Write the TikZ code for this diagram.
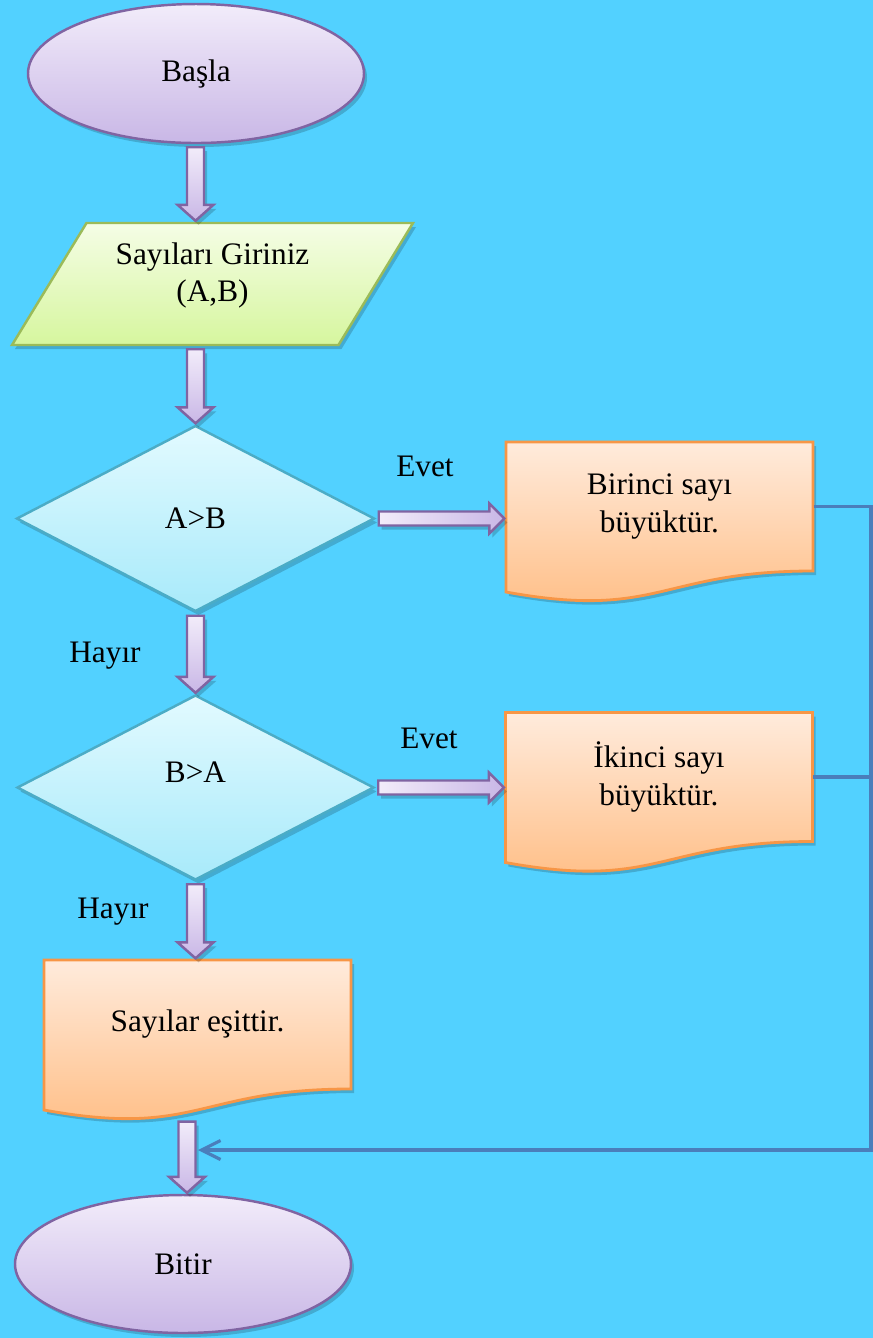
\documentclass[tikz,border=0pt]{standalone}
\usepackage{fontspec}
\setmainfont{Liberation Serif}
\usetikzlibrary{shapes.geometric,calc,arrows.meta,shadows}

\definecolor{skyback}{RGB}{82,209,255}
\definecolor{lilactop}{RGB}{242,236,250}
\definecolor{lilacbot}{RGB}{201,183,230}
\definecolor{violetline}{RGB}{128,100,162}
\definecolor{limetop}{RGB}{245,253,230}
\definecolor{limebot}{RGB}{214,246,158}
\definecolor{greenline}{RGB}{155,187,89}
\definecolor{icetop}{RGB}{226,250,255}
\definecolor{icebot}{RGB}{168,234,250}
\definecolor{tealline}{RGB}{75,172,198}
\definecolor{peachtop}{RGB}{255,235,220}
\definecolor{peachbot}{RGB}{255,188,130}
\definecolor{orangeline}{RGB}{247,150,70}
\definecolor{linkblue}{RGB}{74,126,187}

\tikzset{
  softshadow/.style={drop shadow={shadow xshift=0.03cm,shadow yshift=-0.04cm,opacity=0.18,fill=black}},
  terminal/.style={ellipse, draw=violetline, line width=0.7pt, top color=lilactop, bottom color=lilacbot,
    minimum width=3.36cm, minimum height=1.39cm, inner sep=0pt, softshadow},
  inputbox/.style={trapezium, trapezium left angle=56.7, trapezium right angle=123.3, trapezium stretches=true,
    draw=greenline, line width=0.7pt, top color=limetop, bottom color=limebot,
    minimum width=4.01cm, minimum height=1.22cm, inner sep=1pt, align=center, text depth=0.24cm, softshadow},
  decision/.style={diamond, draw=tealline, line width=0.7pt, top color=icetop, bottom color=icebot,
    minimum width=3.58cm, minimum height=1.86cm, inner sep=0pt, softshadow},
  doctext/.style={rectangle, minimum width=3.07cm, minimum height=1.29cm, inner sep=0pt, align=center},
  docbox/.style={draw=orangeline, line width=0.8pt, top color=peachtop, bottom color=peachbot, softshadow},
  blockarrow/.style={draw=violetline, line width=0.7pt, softshadow},
  link/.style={draw=linkblue, line width=0.9pt},
  answer/.style={anchor=base},
}

% document shape round the top part centred on #1
\newcommand{\docshape}[1]{%
  \path[docbox] ($(#1)+(-1.535,0.645)$) -- ($(#1)+(1.535,0.645)$) -- ($(#1)+(1.535,-0.645)$)
    .. controls ($(#1)+(0,-0.645)$) and ($(#1)+(0,-1.135)$) .. ($(#1)+(-1.535,-0.855)$) -- cycle;}

% fat arrows: x (or y) from #1, tip at #2
\newcommand{\blockdown}[2]{%
  \path[blockarrow, top color=lilactop, bottom color=lilacbot] let \p1=(#1), \p2=(#2) in
    (\x1-0.085cm,\y1-0.03cm) -- (\x1+0.085cm,\y1-0.03cm) -- (\x1+0.085cm,\y2+0.17cm)
    -- (\x1+0.18cm,\y2+0.17cm) -- (\x1,\y2+0.01cm) -- (\x1-0.18cm,\y2+0.17cm)
    -- (\x1-0.085cm,\y2+0.17cm) -- cycle;}
\newcommand{\blockright}[2]{%
  \path[blockarrow, left color=lilactop, right color=lilacbot] let \p1=(#1), \p2=(#2) in
    (\x1+0.03cm,\y1+0.07cm) -- (\x2-0.16cm,\y1+0.07cm) -- (\x2-0.16cm,\y1+0.15cm)
    -- (\x2-0.01cm,\y1) -- (\x2-0.16cm,\y1-0.15cm) -- (\x2-0.16cm,\y1-0.07cm)
    -- (\x1+0.03cm,\y1-0.07cm) -- cycle;}

\begin{document}
\begin{tikzpicture}[font=\fontsize{8.9}{10.7}\selectfont]

        \useasboundingbox (0,0) rectangle (8.73,-13.38);
        \fill[skyback] (0,0) rectangle (8.73,-13.38);

        \coordinate (d1c) at (6.595,-5.065);
        \coordinate (d2c) at (6.59,-7.77);
        \coordinate (d3c) at (1.975,-10.245);

        \node[terminal] (start) at (1.96,-0.735) {Başla};
        \node[inputbox] (pars) at (2.125,-2.84) {Sayıları Giriniz\\(A,B)};
        \node[decision] (q1) at (1.955,-5.185) {A>B};
        \node[decision, minimum width=3.57cm, minimum height=1.85cm, label={[yshift=0.155cm]center:B>A}] (q2) at (1.955,-7.875) {};

        % documents: outline first, text on top
        \docshape{d1c}
        \node[doctext] (d1) at (d1c) {Birinci sayı\\büyüktür.};
        \docshape{d2c}
        \node[doctext] (d2) at (d2c) {İkinci sayı\\büyüktür.};
        \docshape{d3c}
        \node[doctext] (d3) at (d3c) {Sayılar eşittir.};

        \node[terminal, minimum height=1.38cm] (stop) at (1.83,-12.64) {Bitir};

        \node[answer] (yes1) at (4.25,-4.76) {Evet};
        \node[answer] (yes2) at (4.29,-7.48) {Evet};
        \node[answer] (no1) at (1.05,-6.62) {Hayır};
        \node[answer] (no2) at (1.13,-9.18) {Hayır};

        \blockdown{start.south -| q1.north}{pars.north -| q1.north}
        \blockdown{pars.south -| q1.north}{q1.north}
        \blockdown{q1.south}{q2.north}
        \blockdown{q2.south}{d3.north}
        \blockdown{$(d3.south)+(-0.105,-0.29)$}{stop.north}
        \blockright{q1.east}{d1.west}
        \blockright{q2.east}{d2.west}

        % return line along the right edge
        \coordinate (rail) at (8.71,-11.50);
        \coordinate (merge) at (1.98,-11.50);
        \draw[link, -{Straight Barb[length=1.9mm,width=1.9mm]}] (d1.east) -| (rail) -- (merge);
        \draw[link] (d2.east) -- (d2.east -| rail);

    \end{tikzpicture}
\end{document}
